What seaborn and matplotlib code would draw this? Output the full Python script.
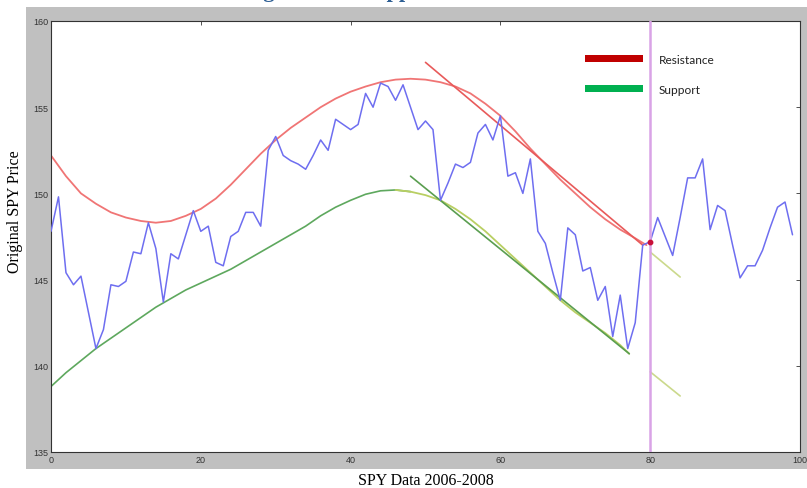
import numpy as np
import pandas as pd
import matplotlib
matplotlib.use("Agg")
import matplotlib.pyplot as plt
from matplotlib.patches import Rectangle
import seaborn as sns

# SPY closing prices (index 0..99)
spy_price = [
    147.8, 149.8, 145.4, 144.7, 145.2, 143.1, 141.0, 142.1, 144.7, 144.6,
    144.9, 146.6, 146.5, 148.3, 146.8, 143.7, 146.5, 146.2, 147.6, 149.0,
    147.8, 148.1, 146.0, 145.8, 147.5, 147.8, 148.9, 148.9, 148.1, 152.5,
    153.3, 152.2, 151.9, 151.7, 151.4, 152.2, 153.1, 152.5, 154.3, 154.0,
    153.7, 154.0, 155.8, 155.0, 156.4, 156.2, 155.4, 156.3, 155.0, 153.7,
    154.2, 153.7, 149.6, 150.6, 151.7, 151.5, 151.8, 153.5, 154.0, 153.1,
    154.5, 151.0, 151.2, 150.0, 152.0, 147.8, 147.1, 145.4, 143.8, 148.0,
    147.6, 145.5, 145.7, 143.8, 144.6, 141.7, 144.1, 141.0, 142.5, 147.0,
    147.2, 148.6, 147.5, 146.4, 148.6, 150.9, 150.9, 152.0, 147.9, 149.3,
    149.0, 147.0, 145.1, 145.8, 145.8, 146.7, 148.0, 149.2, 149.5, 147.6,
]
split_index = 80

# Resistance curve (upper envelope)
res_x = [0, 2, 4, 6, 8, 10, 12, 14, 16, 18, 20, 22, 24, 26, 28, 30, 32, 34,
         36, 38, 40, 42, 44, 46, 48, 50, 52, 54, 56, 58, 60, 62, 64, 66, 68,
         70, 72, 74, 76, 78, 79.5]
res_y = [152.2, 151.0, 150.0, 149.4, 148.9, 148.6, 148.4, 148.3, 148.4, 148.7,
         149.1, 149.7, 150.5, 151.4, 152.3, 153.1, 153.8, 154.4, 155.0, 155.5,
         155.9, 156.2, 156.45, 156.6, 156.65, 156.6, 156.45, 156.2, 155.8, 155.2,
         154.5, 153.6, 152.6, 151.7, 150.8, 150.0, 149.2, 148.5, 147.9, 147.4,
         147.0]

# Support curve (lower envelope), rising part and falling part
sup_x = [0, 2, 4, 6, 8, 10, 12, 14, 16, 18, 20, 22, 24, 26, 28, 30, 32, 34,
         36, 38, 40, 42, 44, 46, 48]
sup_y = [138.8, 139.6, 140.3, 141.0, 141.6, 142.2, 142.8, 143.4, 143.9, 144.4,
         144.8, 145.2, 145.6, 146.1, 146.6, 147.1, 147.6, 148.1, 148.7, 149.2,
         149.6, 149.95, 150.15, 150.2, 150.1]
sup2_x = [46, 48, 50, 52, 54, 56, 58, 60, 62, 64, 66, 68, 70, 72, 74, 76, 77.2]
sup2_y = [150.2, 150.1, 149.9, 149.6, 149.1, 148.5, 147.8, 147.0, 146.2, 145.4,
          144.6, 143.8, 143.1, 142.5, 141.9, 141.2, 140.7]

# Straight trend lines (start, end) and their projections past the split
res_line_x, res_line_y = [50, 79], [157.6, 147.0]
sup_line_x, sup_line_y = [48, 77.2], [151.0, 140.7]
res_proj_x, res_proj_y = [80, 84], [146.6, 145.15]
sup_proj_x, sup_proj_y = [80, 84], [139.65, 138.25]

x_ticks = [0, 20, 40, 60, 80, 100]
y_ticks = [135, 140, 145, 150, 155, 160]

sns.set_theme(style="white")
plt.rcParams["font.family"] = ["Liberation Sans", "DejaVu Sans"]

W, H = 807, 489
fig = plt.figure(figsize=(W / 100, H / 100), dpi=100, facecolor="white")

# grey panel behind the axes
fig.patches.append(Rectangle((26 / W, 1 - 470 / H), 1 - 26 / W, 462 / H,
                             transform=fig.transFigure, facecolor="#c0c0c0",
                             edgecolor="none", zorder=-5))

ax = fig.add_axes([51 / W, 1 - 453 / H, 749 / W, 431 / H])
ax.set_zorder(1)
ax.set_facecolor("white")

df = pd.DataFrame({"day": np.arange(len(spy_price)), "price": spy_price})
sns.lineplot(data=df, x="day", y="price", ax=ax, color="#6e6ef0", lw=1.1,
             zorder=3)


def curve(xs, ys, color, lw=1.2, z=2):
    sns.lineplot(x=xs, y=ys, ax=ax, color=color, lw=lw, zorder=z,
                 sort=False, estimator=None)


curve(res_x, res_y, "#f07575", lw=1.3)
curve(res_line_x, res_line_y, "#e85a5a", lw=1.2)
curve(sup_x, sup_y, "#5ea85e", lw=1.2)
curve(sup2_x, sup2_y, "#b9cf63", lw=1.3)
curve(sup_line_x, sup_line_y, "#5a9e50", lw=1.2)
curve(res_proj_x, res_proj_y, "#cbd98c", lw=1.2)
curve(sup_proj_x, sup_proj_y, "#cbd98c", lw=1.2)

ax.axvline(split_index, color="#d9a3e6", lw=1.8, zorder=4)
ax.plot([split_index], [spy_price[split_index]], "o", color="#c8103a",
        ms=3.2, zorder=5)

ax.set_xlim(0, 100)
ax.set_ylim(135, 160)
ax.set_xticks(x_ticks)
ax.set_yticks(y_ticks)
ax.tick_params(direction="in", length=3, width=0.6, top=True, right=True,
               labelsize=6.5, colors="#333333", pad=2)
for s in ax.spines.values():
    s.set_color("#333333")
    s.set_linewidth(0.8)
ax.set_xlabel("")
ax.set_ylabel("")

# legend swatches and labels (pixel positions from the top-left corner)
for (top, color) in [(56, "#c00000"), (86, "#00b050")]:
    fig.patches.append(Rectangle((585 / W, 1 - (top + 7) / H), 58 / W, 7 / H,
                                 transform=fig.transFigure, facecolor=color,
                                 edgecolor="none", zorder=10))
for txt, ypix in [("Resistance", 61), ("Support", 91)]:
    fig.text(659 / W, 1 - ypix / H, txt, fontsize=8.6,
             family=["Lato", "DejaVu Sans"], color="#222222",
             va="center", ha="left", zorder=11)

serif = ["Liberation Serif", "DejaVu Serif"]
fig.text(15 / W, 1 - 212 / H, "Original SPY Price", rotation=90, family=serif,
         fontsize=11.5, ha="center", va="center", color="black")
fig.text(426 / W, 1 - 481 / H, "SPY Data 2006-2008", family=serif,
         fontsize=11.5, ha="center", va="center", color="black")
fig.text(200 / W, 1 + 3 / H, "Finding Lines of Support", family=serif,
         fontsize=16, fontweight="bold", color="#2e5f94", ha="left",
         va="baseline")

fig.savefig("out.png", dpi=100, facecolor="white")
